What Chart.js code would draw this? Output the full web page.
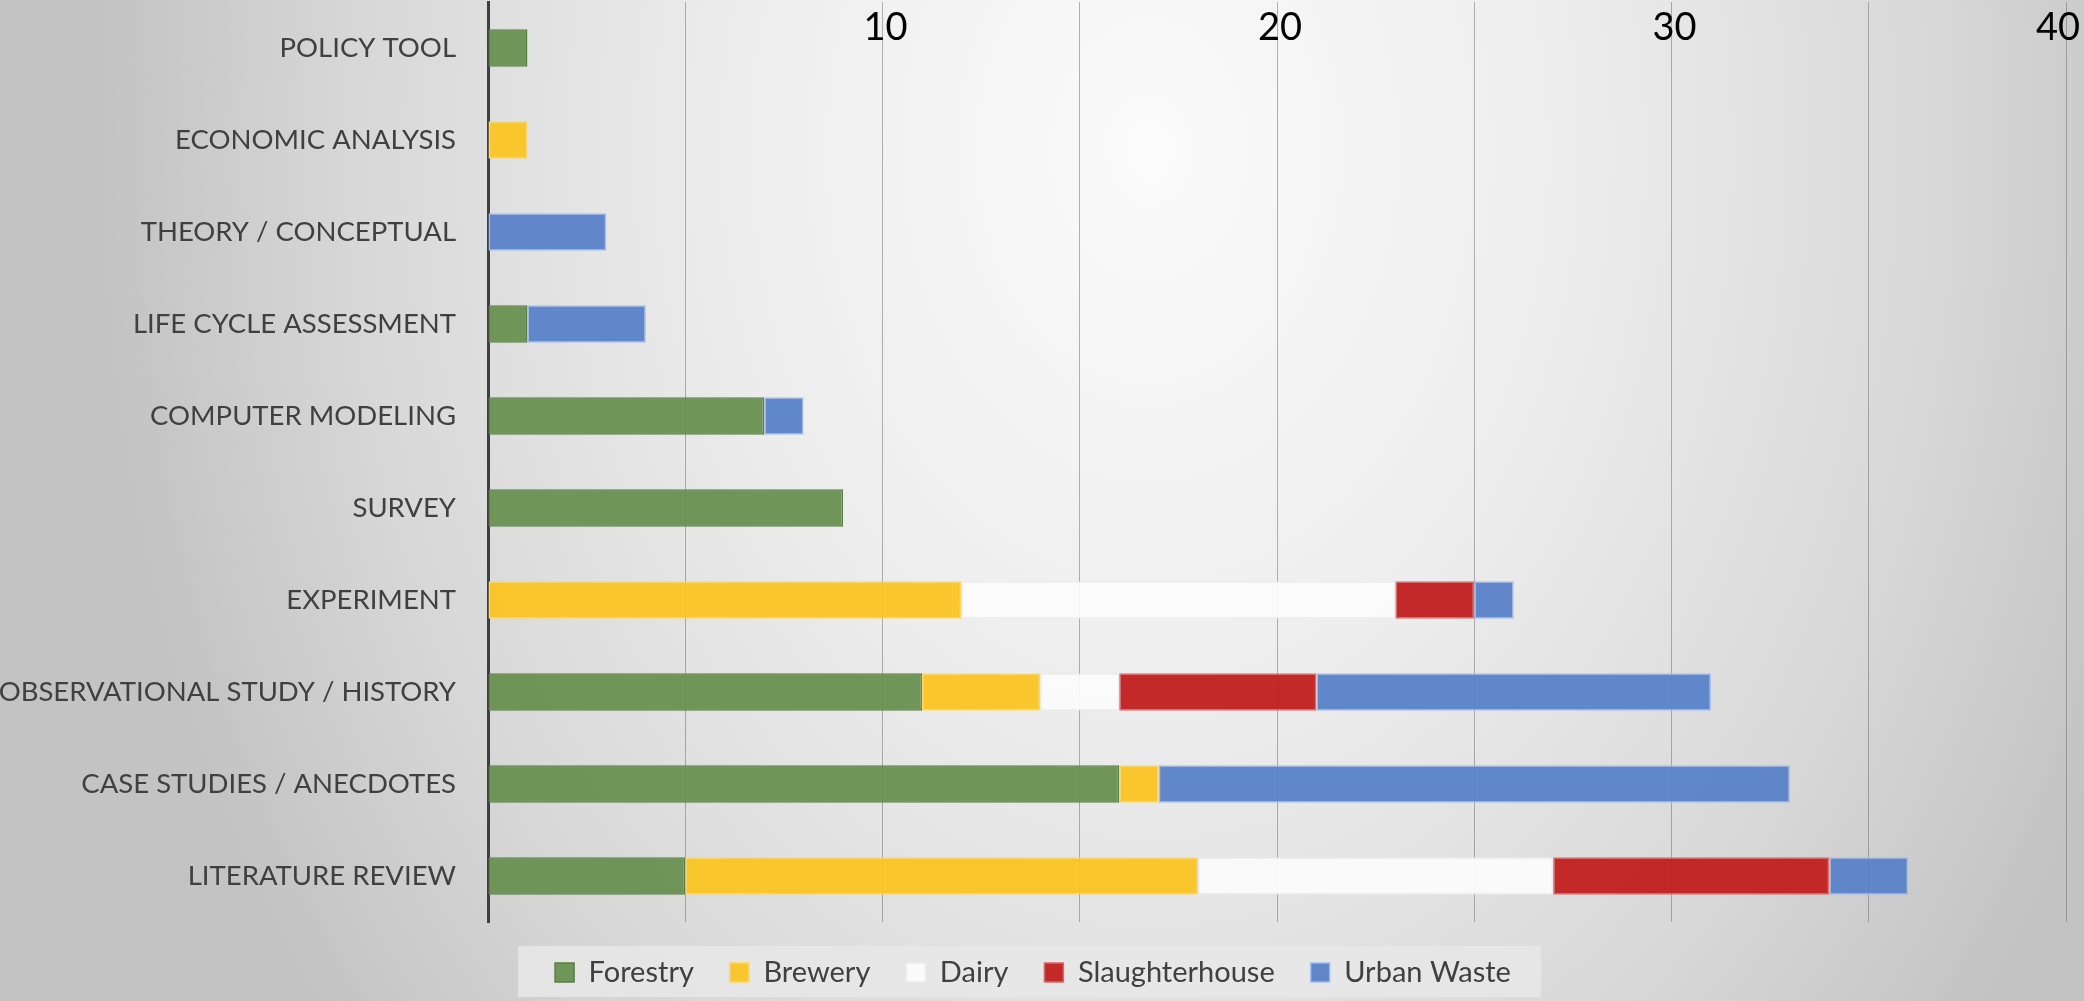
<!DOCTYPE html>
<html>
<head>
<meta charset="utf-8">
<title>Research methods by sector</title>
<script src="https://cdn.jsdelivr.net/npm/chart.js@4.4.1/dist/chart.umd.min.js"></script>
<style>
  html, body {
    margin: 0;
    padding: 0;
    overflow: hidden;
  }
  body {
    width: 2084px;
    height: 1001px;
    background: radial-gradient(ellipse 1050px 1400px at 1150px 150px,
      #fbfbfb 0%, #ededed 40%, #d8d8d8 75%, #c3c3c3 100%);
  }
  #wrap {
    position: relative;
    width: 2084px;
    height: 1001px;
  }
</style>
</head>
<body>
<div id="wrap"><canvas id="methodsChart"></canvas></div>

<script>
/* DATA */
const categories = [
  "POLICY TOOL",
  "ECONOMIC ANALYSIS",
  "THEORY / CONCEPTUAL",
  "LIFE CYCLE ASSESSMENT",
  "COMPUTER MODELING",
  "SURVEY",
  "EXPERIMENT",
  "OBSERVATIONAL STUDY / HISTORY",
  "CASE STUDIES / ANECDOTES",
  "LITERATURE REVIEW"
];

const forestry       = [1, 0, 0, 1, 7, 9, 0, 11, 16, 5];
const brewery        = [0, 1, 0, 0, 0, 0, 12, 3, 1, 13];
const dairy          = [0, 0, 0, 0, 0, 0, 11, 2, 0, 9];
const slaughterhouse = [0, 0, 0, 0, 0, 0, 2, 5, 0, 7];
const urbanWaste     = [0, 0, 3, 3, 1, 0, 1, 10, 16, 2];

const tickLabels = [10, 20, 30, 40];

/* PLUGINS */
// light panel behind the legend items
const legendPanel = {
  id: "legendPanel",
  beforeDraw(chart) {
    const lg = chart.legend;
    if (!lg || !lg.legendHitBoxes.length) return;
    const boxes = lg.legendHitBoxes;
    const first = boxes[0];
    const last = boxes[boxes.length - 1];
    const { ctx } = chart;
    ctx.save();
    ctx.fillStyle = "rgba(232,232,232,0.85)";
    ctx.fillRect(first.left - 37, lg.top + 24, (last.left + last.width + 30) - (first.left - 37), lg.bottom - lg.top - 24);
    ctx.restore();
  }
};

// value labels sit inside the plot, at the top
const topTicks = {
  id: "topTicks",
  afterDraw(chart) {
    const { ctx, scales: { x } } = chart;
    ctx.save();
    ctx.font = "38px Lato";
    ctx.fillStyle = "#000";
    ctx.textAlign = "center";
    ctx.textBaseline = "middle";
    tickLabels.forEach(v => {
      const w = ctx.measureText(String(v)).width;
      const px = Math.min(x.getPixelForValue(v) + 3, chart.width - w / 2 - 4);
      ctx.fillText(String(v), px, 28);
    });
    ctx.restore();
  }
};

/* CHART */
const ctx = document.getElementById("methodsChart").getContext("2d");

new Chart(ctx, {
  type: "bar",
  data: {
    labels: categories,
    datasets: [
      { label: "Forestry", data: forestry, backgroundColor: "rgba(104,145,80,0.95)", borderColor: "#5b7f46" },
      { label: "Brewery", data: brewery, backgroundColor: "rgba(251,196,35,0.95)", borderColor: "#fcd66a" },
      { label: "Dairy", data: dairy, backgroundColor: "rgba(251,251,251,0.95)", borderColor: "#ececec" },
      { label: "Slaughterhouse", data: slaughterhouse, backgroundColor: "rgba(193,31,31,0.95)", borderColor: "#d96a6a" },
      { label: "Urban Waste", data: urbanWaste, backgroundColor: "rgba(90,130,201,0.95)", borderColor: "#a3bbe6" }
    ].map(d => Object.assign(d, {
      borderWidth: 1.5,
      borderSkipped: false,
      categoryPercentage: 0.82,
      barPercentage: 0.5
    }))
  },
  options: {
    indexAxis: "y",
    responsive: true,
    maintainAspectRatio: false,
    animation: false,
    layout: { padding: { top: 2, right: 18, left: 0, bottom: 4 } },
    scales: {
      x: {
        stacked: true,
        position: "top",
        min: 0,
        max: 40,
        ticks: { stepSize: 5, display: false },
        grid: { color: "rgba(105,105,105,0.5)", lineWidth: 1, drawTicks: false },
        border: { display: false }
      },
      y: {
        stacked: true,
        grid: { display: false, drawTicks: false },
        border: { display: true, color: "#3f3f3f", width: 3 },
        ticks: {
          color: "#404040",
          font: { family: "Lato", size: 27.5 },
          padding: 32,
          autoSkip: false
        },
        afterFit(scale) {
          // plot starts at x = 488, as in the original slide
          scale.width = 488;
          scale.paddingTop = 0;
          scale.paddingBottom = 0;
        }
      }
    },
    plugins: {
      legend: {
        position: "bottom",
        labels: {
          boxWidth: 19,
          boxHeight: 19,
          padding: 36,
          color: "#404040",
          font: { family: "Lato", size: 29 }
        }
      },
      tooltip: { enabled: false }
    }
  },
  plugins: [legendPanel, topTicks]
});
</script>
</body>
</html>
